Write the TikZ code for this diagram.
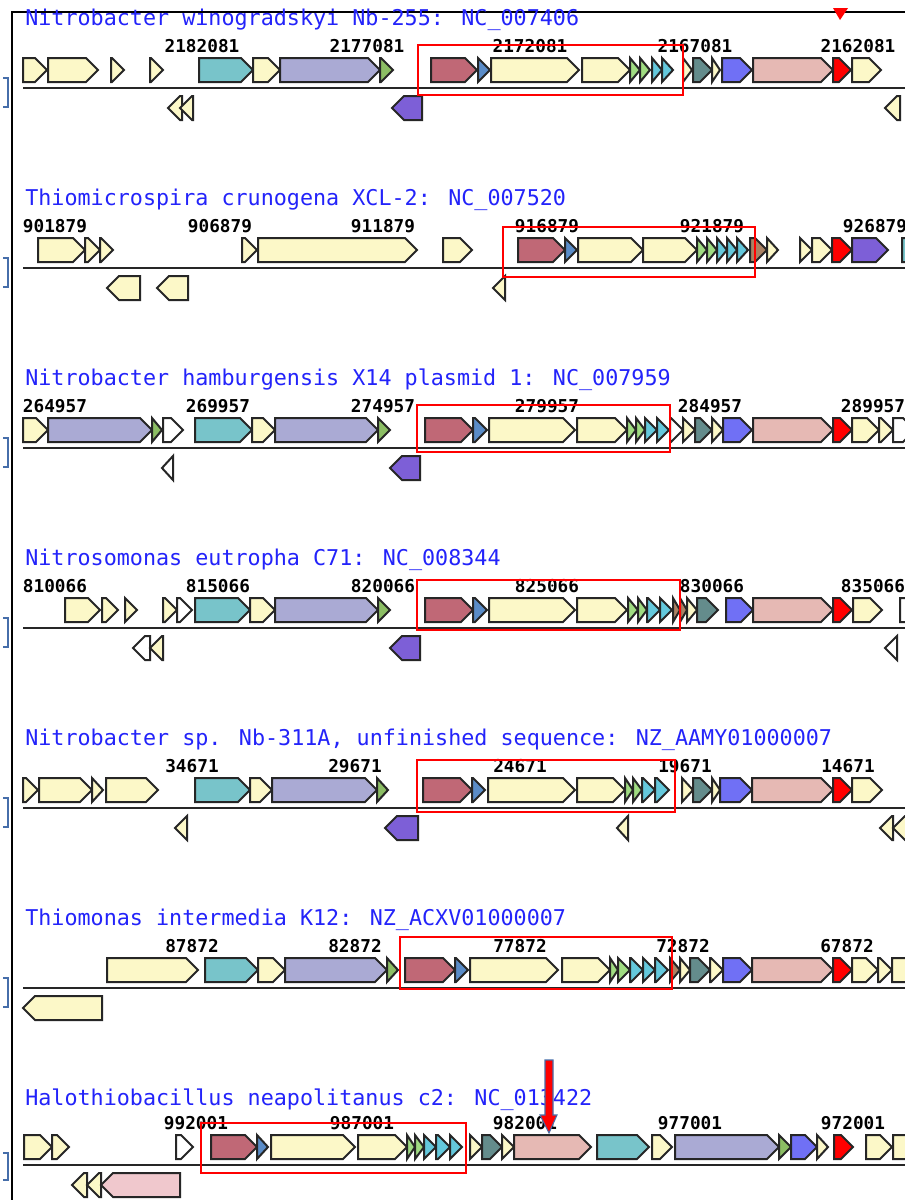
\documentclass[tikz,border=0pt]{standalone}
\usepackage{fontspec}
\newfontfamily\monofont{DejaVu Sans Mono}
\usetikzlibrary{positioning}
\definecolor{genyellow}{RGB}{252,248,200}
\definecolor{genteal}{RGB}{120,196,202}
\definecolor{genlav}{RGB}{170,170,212}
\definecolor{gengreen}{RGB}{140,190,100}
\definecolor{genrose}{RGB}{192,104,118}
\definecolor{gensteel}{RGB}{90,140,200}
\definecolor{genlgreen}{RGB}{160,220,130}
\definecolor{gencyan}{RGB}{100,200,220}
\definecolor{genslate}{RGB}{100,140,140}
\definecolor{genblue}{RGB}{112,112,245}
\definecolor{genpink}{RGB}{230,185,180}
\definecolor{genlpink}{RGB}{240,200,205}
\definecolor{genpurple}{RGB}{125,95,215}
\definecolor{genbrown}{RGB}{170,130,100}
\definecolor{titleblue}{RGB}{35,35,250}
\definecolor{brackblue}{RGB}{70,110,170}

% forward gene: start, end, colour (uses \ty)
\newcommand{\fgene}[3]{%
  \pgfmathsetmacro\gt{min(12,#2-#1)}%
  \pgfmathsetmacro\gb{#2-\gt}%
  \filldraw[genebox,fill=#3] (#1,\ty+58) -- (\gb,\ty+58) -- (#2,\ty+70) -- (\gb,\ty+82) -- (#1,\ty+82) -- cycle;}
% reverse gene: tip, end, colour
\newcommand{\rgene}[3]{%
  \pgfmathsetmacro\gt{min(12,#2-#1)}%
  \pgfmathsetmacro\gb{#1+\gt}%
  \filldraw[genebox,fill=#3] (#2,\ty+96) -- (\gb,\ty+96) -- (#1,\ty+108) -- (\gb,\ty+120) -- (#2,\ty+120) -- cycle;}

\begin{document}
\begin{tikzpicture}[x=0.75pt,y=-0.75pt,
  genebox/.style={draw=black!85, line width=1.5pt, line join=miter},
  tracktitle/.style={anchor=west, inner sep=0pt, text=titleblue, font=\monofont\fontsize{16.3}{18}\selectfont},
  poslab/.style={inner sep=0pt, font=\monofont\bfseries\fontsize{13.3}{15}\selectfont},
  axisline/.style={line width=2pt, draw=black!85},
  hitbox/.style={draw=red, line width=1.1pt},
  brack/.style={draw=brackblue, line width=1.5pt}
]
\useasboundingbox (0,0) rectangle (905,1200);
\fill[white] (0,0) rectangle (905,1200);
% frame
\draw[line width=1pt] (12,1200) -- (12,12) -- (905,12);

% ---- track 1
\def\ty{0}
\node[tracktitle] (t1) at (25,\ty+20) {Nitrobacter winogradskyi Nb-255: NC\_007406};
\node[poslab] (p1a) at (202,\ty+46) {2182081};
\node[poslab] (p1b) at (367,\ty+46) {2177081};
\node[poslab] (p1c) at (530,\ty+46) {2172081};
\node[poslab] (p1d) at (695,\ty+46) {2167081};
\node[poslab] (p1e) at (858,\ty+46) {2162081};
\fgene{23}{47}{genyellow} \fgene{48}{98}{genyellow}
\fgene{111}{124}{genyellow} \fgene{150}{163}{genyellow}
\fgene{199}{253}{genteal} \fgene{253}{280}{genyellow}
\fgene{280}{380}{genlav} \fgene{380}{393}{gengreen}
\fgene{431}{477}{genrose} \fgene{478}{490}{gensteel}
\fgene{491}{579}{genyellow} \fgene{582}{630}{genyellow}
\fgene{630}{640}{genlgreen} \fgene{640}{650}{genlgreen}
\fgene{652}{662}{gencyan} \fgene{662}{673}{gencyan}
\fgene{683}{692}{genyellow} \fgene{693}{712}{genslate}
\fgene{712}{720}{genyellow} \fgene{722}{752}{genblue}
\fgene{753}{833}{genpink} \fgene{833}{851}{red}
\fgene{852}{881}{genyellow}
\draw[axisline] (23,\ty+88) -- (905,\ty+88);
\rgene{168}{182}{genyellow} \rgene{180}{193}{genyellow}
\rgene{392}{422}{genpurple} \rgene{885}{900}{genyellow}
\draw[hitbox] (418,\ty+45) rectangle (683,\ty+95);
\draw[brack] (3,\ty+78) -- (8,\ty+78) -- (8,\ty+107) -- (3,\ty+107);
\fill[red] (833,8) -- (848,8) -- (840,20) -- cycle;

% ---- track 2
\def\ty{180}
\node[tracktitle] (t2) at (25,\ty+20) {Thiomicrospira crunogena XCL-2: NC\_007520};
\node[poslab] (p2a) at (55,\ty+46) {901879};
\node[poslab] (p2b) at (220,\ty+46) {906879};
\node[poslab] (p2c) at (383,\ty+46) {911879};
\node[poslab] (p2d) at (547,\ty+46) {916879};
\node[poslab] (p2e) at (712,\ty+46) {921879};
\node[poslab] (p2f) at (875,\ty+46) {926879};
\fgene{38}{85}{genyellow} \fgene{85}{100}{genyellow} \fgene{100}{113}{genyellow}
\fgene{242}{257}{genyellow} \fgene{258}{417}{genyellow}
\fgene{443}{472}{genyellow}
\fgene{518}{565}{genrose} \fgene{565}{577}{gensteel}
\fgene{578}{643}{genyellow} \fgene{643}{697}{genyellow}
\fgene{697}{707}{genlgreen} \fgene{707}{717}{genlgreen}
\fgene{717}{727}{gencyan} \fgene{727}{737}{gencyan} \fgene{737}{748}{gencyan}
\fgene{750}{767}{genbrown} \fgene{767}{778}{genyellow}
\fgene{800}{812}{genyellow} \fgene{812}{832}{genyellow}
\fgene{832}{852}{red} \fgene{852}{888}{genpurple}
\fgene{902}{930}{genteal}
\draw[axisline] (23,\ty+88) -- (905,\ty+88);
\rgene{107}{140}{genyellow} \rgene{157}{188}{genyellow}
\rgene{493}{505}{genyellow}
\draw[hitbox] (503,\ty+47) rectangle (755,\ty+97);
\draw[brack] (3,\ty+78) -- (8,\ty+78) -- (8,\ty+107) -- (3,\ty+107);

% ---- track 3
\def\ty{360}
\node[tracktitle] (t3) at (25,\ty+20) {Nitrobacter hamburgensis X14 plasmid 1: NC\_007959};
\node[poslab] (p3a) at (55,\ty+46) {264957};
\node[poslab] (p3b) at (218,\ty+46) {269957};
\node[poslab] (p3c) at (383,\ty+46) {274957};
\node[poslab] (p3d) at (547,\ty+46) {279957};
\node[poslab] (p3e) at (710,\ty+46) {284957};
\node[poslab] (p3f) at (873,\ty+46) {289957};
\fgene{23}{48}{genyellow} \fgene{48}{152}{genlav} \fgene{152}{162}{gengreen}
\fgene{163}{183}{white}
\fgene{195}{252}{genteal} \fgene{252}{275}{genyellow}
\fgene{275}{378}{genlav} \fgene{378}{390}{gengreen}
\fgene{425}{473}{genrose} \fgene{473}{487}{gensteel}
\fgene{489}{575}{genyellow} \fgene{577}{627}{genyellow}
\fgene{627}{636}{genlgreen} \fgene{636}{645}{genlgreen}
\fgene{645}{657}{gencyan} \fgene{657}{669}{gencyan}
\fgene{670}{683}{white} \fgene{683}{695}{genyellow}
\fgene{695}{712}{genslate} \fgene{712}{723}{genyellow}
\fgene{723}{752}{genblue} \fgene{753}{833}{genpink}
\fgene{833}{852}{red} \fgene{852}{879}{genyellow}
\fgene{879}{893}{genyellow} \fgene{893}{915}{white}
\draw[axisline] (23,\ty+88) -- (905,\ty+88);
\rgene{162}{173}{white} \rgene{390}{420}{genpurple}
\draw[hitbox] (417,\ty+45) rectangle (670,\ty+92);
\draw[brack] (3,\ty+78) -- (8,\ty+78) -- (8,\ty+107) -- (3,\ty+107);

% ---- track 4
\def\ty{540}
\node[tracktitle] (t4) at (25,\ty+20) {Nitrosomonas eutropha C71: NC\_008344};
\node[poslab] (p4a) at (55,\ty+46) {810066};
\node[poslab] (p4b) at (218,\ty+46) {815066};
\node[poslab] (p4c) at (383,\ty+46) {820066};
\node[poslab] (p4d) at (547,\ty+46) {825066};
\node[poslab] (p4e) at (712,\ty+46) {830066};
\node[poslab] (p4f) at (873,\ty+46) {835066};
\fgene{65}{100}{genyellow} \fgene{102}{118}{genyellow} \fgene{125}{137}{genyellow}
\fgene{163}{177}{genyellow} \fgene{177}{192}{white}
\fgene{195}{250}{genteal} \fgene{250}{275}{genyellow}
\fgene{275}{378}{genlav} \fgene{378}{390}{gengreen}
\fgene{425}{473}{genrose} \fgene{473}{487}{gensteel}
\fgene{489}{575}{genyellow} \fgene{577}{627}{genyellow}
\fgene{628}{638}{genlgreen} \fgene{638}{647}{genlgreen}
\fgene{647}{660}{gencyan} \fgene{660}{672}{gencyan}
\fgene{673}{680}{genbrown} \fgene{680}{687}{genbrown}
\fgene{687}{697}{genyellow} \fgene{697}{718}{genslate}
\fgene{726}{753}{genblue} \fgene{753}{833}{genpink}
\fgene{833}{852}{red} \fgene{853}{882}{genyellow}
\fgene{900}{930}{white}
\draw[axisline] (23,\ty+88) -- (905,\ty+88);
\rgene{133}{150}{white} \rgene{150}{163}{genyellow}
\rgene{390}{420}{genpurple} \rgene{885}{897}{white}
\draw[hitbox] (417,\ty+40) rectangle (680,\ty+90);
\draw[brack] (3,\ty+78) -- (8,\ty+78) -- (8,\ty+107) -- (3,\ty+107);

% ---- track 5
\def\ty{720}
\node[tracktitle] (t5) at (25,\ty+20) {Nitrobacter sp. Nb-311A, unfinished sequence: NZ\_AAMY01000007};
\node[poslab] (p5a) at (192,\ty+46) {34671};
\node[poslab] (p5b) at (355,\ty+46) {29671};
\node[poslab] (p5c) at (520,\ty+46) {24671};
\node[poslab] (p5d) at (685,\ty+46) {19671};
\node[poslab] (p5e) at (848,\ty+46) {14671};
\fgene{23}{38}{genyellow} \fgene{39}{92}{genyellow}
\fgene{92}{103}{genyellow} \fgene{106}{158}{genyellow}
\fgene{195}{250}{genteal} \fgene{250}{272}{genyellow}
\fgene{272}{377}{genlav} \fgene{377}{388}{gengreen}
\fgene{423}{472}{genrose} \fgene{472}{485}{gensteel}
\fgene{488}{575}{genyellow} \fgene{577}{625}{genyellow}
\fgene{625}{633}{genlgreen} \fgene{633}{642}{genlgreen}
\fgene{642}{655}{gencyan} \fgene{655}{669}{gencyan}
\fgene{682}{693}{genyellow} \fgene{693}{712}{genslate}
\fgene{712}{720}{genyellow} \fgene{720}{752}{genblue}
\fgene{752}{833}{genpink} \fgene{833}{852}{red}
\fgene{852}{882}{genyellow}
\draw[axisline] (23,\ty+88) -- (905,\ty+88);
\rgene{175}{187}{genyellow} \rgene{385}{418}{genpurple}
\rgene{617}{628}{genyellow} \rgene{880}{893}{genyellow} \rgene{893}{910}{genyellow}
\draw[hitbox] (417,\ty+40) rectangle (675,\ty+92);
\draw[brack] (3,\ty+78) -- (8,\ty+78) -- (8,\ty+107) -- (3,\ty+107);

% ---- track 6
\def\ty{900}
\node[tracktitle] (t6) at (25,\ty+20) {Thiomonas intermedia K12: NZ\_ACXV01000007};
\node[poslab] (p6a) at (192,\ty+46) {87872};
\node[poslab] (p6b) at (355,\ty+46) {82872};
\node[poslab] (p6c) at (520,\ty+46) {77872};
\node[poslab] (p6d) at (683,\ty+46) {72872};
\node[poslab] (p6e) at (847,\ty+46) {67872};
\fgene{107}{198}{genyellow}
\fgene{205}{258}{genteal} \fgene{258}{285}{genyellow}
\fgene{285}{387}{genlav} \fgene{387}{398}{gengreen}
\fgene{405}{455}{genrose} \fgene{455}{468}{gensteel}
\fgene{470}{558}{genyellow} \fgene{562}{610}{genyellow}
\fgene{610}{618}{genlgreen} \fgene{618}{630}{genlgreen}
\fgene{630}{643}{gencyan} \fgene{643}{655}{gencyan} \fgene{655}{668}{gencyan}
\fgene{670}{680}{genbrown} \fgene{680}{690}{genyellow}
\fgene{690}{710}{genslate} \fgene{710}{723}{genyellow}
\fgene{723}{752}{genblue} \fgene{752}{833}{genpink}
\fgene{833}{852}{red} \fgene{852}{878}{genyellow}
\fgene{878}{892}{genyellow} \fgene{892}{930}{genyellow}
\draw[axisline] (23,\ty+88) -- (905,\ty+88);
\rgene{23}{102}{genyellow}
\draw[hitbox] (400,\ty+37) rectangle (672,\ty+89);
\draw[brack] (3,\ty+78) -- (8,\ty+78) -- (8,\ty+107) -- (3,\ty+107);

% ---- track 7
\def\ty{1077}
\node[tracktitle] (t7) at (25,\ty+23) {Halothiobacillus neapolitanus c2: NC\_013422};
\node[poslab] (p7a) at (196,\ty+46) {992001};
\node[poslab] (p7b) at (362,\ty+46) {987001};
\node[poslab] (p7c) at (525,\ty+46) {982001};
\node[poslab] (p7d) at (690,\ty+46) {977001};
\node[poslab] (p7e) at (853,\ty+46) {972001};
\fgene{24}{52}{genyellow} \fgene{52}{69}{genyellow}
\fgene{176}{193}{white}
\fgene{211}{257}{genrose} \fgene{257}{268}{gensteel}
\fgene{271}{355}{genyellow} \fgene{358}{407}{genyellow}
\fgene{407}{415}{genlgreen} \fgene{415}{424}{genlgreen}
\fgene{424}{436}{gencyan} \fgene{436}{450}{gencyan} \fgene{450}{462}{gencyan}
\fgene{470}{482}{genyellow} \fgene{482}{502}{genslate} \fgene{502}{514}{genyellow}
\fgene{514}{591}{genpink}
\fgene{597}{649}{genteal} \fgene{652}{672}{genyellow}
\fgene{675}{779}{genlav} \fgene{779}{791}{gengreen}
\fgene{791}{817}{genblue} \fgene{817}{828}{genyellow}
\fgene{834}{853}{red}
\fgene{866}{892}{genyellow} \fgene{893}{920}{genyellow}
\draw[axisline] (23,\ty+88) -- (905,\ty+88);
\rgene{72}{87}{genyellow} \rgene{87}{101}{genyellow} \rgene{101}{180}{genlpink}
\draw[hitbox] (201,\ty+46) rectangle (466,\ty+96);
\draw[brack] (3,\ty+76) -- (8,\ty+76) -- (8,\ty+103) -- (3,\ty+103);
\filldraw[fill=red, draw=brackblue, line width=0.8pt] (545,1060) -- (553,1060) -- (553,1115) -- (557,1115) -- (549,1133) -- (540,1115) -- (545,1115) -- cycle;
\end{tikzpicture}
\end{document}
